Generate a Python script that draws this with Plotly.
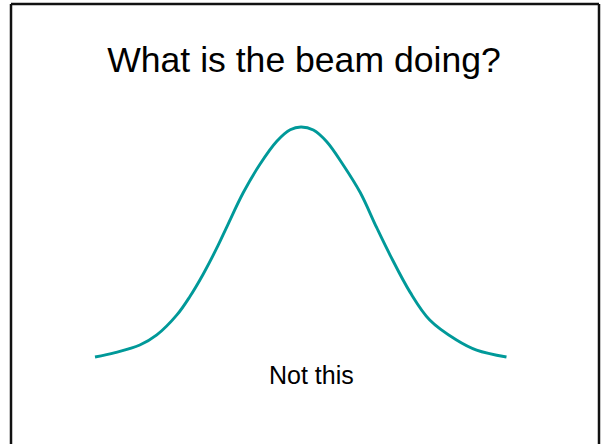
import plotly.graph_objects as go

# beam profile (position, relative intensity)
position = [-4.0, -3.61, -3.13, -2.80, -2.41, -2.16, -1.90, -1.61, -1.44, -1.12, -0.80, -0.47, -0.21, 0.0,
            0.24, 0.50, 0.82, 1.15, 1.47, 1.73, 2.12, 2.50, 3.02, 3.41, 3.99]
intensity = [0.0, 0.019, 0.052, 0.096, 0.183, 0.262, 0.360, 0.485, 0.566, 0.715, 0.837, 0.938, 0.988, 1.0,
             0.987, 0.936, 0.835, 0.715, 0.562, 0.443, 0.281, 0.161, 0.074, 0.030, 0.0]

title_text = "What is the beam doing?"
caption_text = "Not this"

W, H = 602, 444
FONT = "Arial, Liberation Sans, sans-serif"

fig = go.Figure()
fig.add_trace(go.Scatter(x=position, y=intensity, mode="lines", line_shape="spline",
                         line=dict(color="#009999", width=2.9), showlegend=False, hoverinfo="skip"))

# slide frame (left, top, right; bottom runs off the picture)
frame = dict(type="line", xref="paper", yref="paper", line=dict(color="#111111", width=2.5))
fig.add_shape(**frame, x0=11 / W, x1=11 / W, y0=-0.05, y1=1 - 4 / H)
fig.add_shape(**frame, x0=11 / W, x1=599 / W, y0=1 - 4 / H, y1=1 - 4 / H)
fig.add_shape(**frame, x0=599 / W, x1=599 / W, y0=-0.05, y1=1 - 4 / H)

fig.add_annotation(x=0.2, y=-0.078, text=caption_text, showarrow=False, xref="x", yref="y",
                   xanchor="center", yanchor="middle", font=dict(family=FONT, size=25, color="black"))

fig.update_layout(
    width=W, height=H,
    margin=dict(l=0, r=0, t=0, b=0),
    paper_bgcolor="white", plot_bgcolor="white",
    title=dict(text=title_text, x=304 / W, xanchor="center", y=1 - 47 / H, yanchor="top",
               font=dict(family=FONT, size=35.6, color="black")),
    xaxis=dict(range=[-301 / 51.5, 301 / 51.5], visible=False, fixedrange=True),
    yaxis=dict(range=[-87 / 230, 357 / 230], visible=False, fixedrange=True),
)

fig.write_html("out.html", config={"displayModeBar": False},
               post_script="document.body.style.margin='0';")
